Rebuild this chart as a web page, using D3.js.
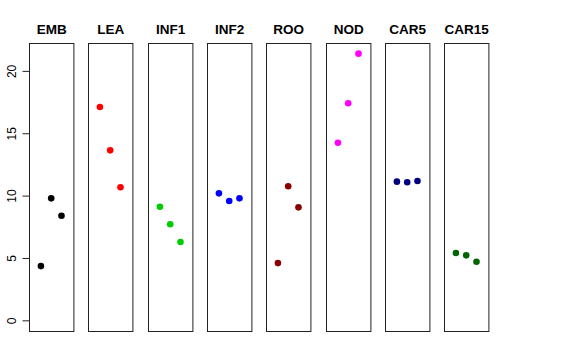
<!DOCTYPE html>
<html><head><meta charset="utf-8">
<script src="https://cdn.jsdelivr.net/npm/d3@7"></script>
<style>body{margin:0;background:#fff}svg{display:block}</style>
</head><body><svg id="c" width="576" height="360"></svg>
<script>
const categories = ["EMB","LEA","INF1","INF2","ROO","NOD","CAR5","CAR15"];
const colors = ["#000000","#FF0000","#00CD00","#0000FF","#8B0000","#FF00FF","#000080","#006400"];
const EMB = [4.35, 9.78, 8.39];
const LEA = [17.1, 13.63, 10.67];
const INF1 = [9.11, 7.70, 6.28];
const INF2 = [10.18, 9.57, 9.78];
const ROO = [4.59, 10.75, 9.06];
const NOD = [14.24, 17.40, 21.38];
const CAR5 = [11.12, 11.07, 11.17];
const CAR15 = [5.40, 5.21, 4.70];
const seriesValues = [EMB, LEA, INF1, INF2, ROO, NOD, CAR5, CAR15];
const yTicks = [0, 5, 10, 15, 20];

(function () {
const svg = d3.select("#c");
const plotTop = 43, plotBottom = 331;
const yMin = 0, yMax = 21.38, yPad = (yMax - yMin) * 0.04;
const y = d3.scaleLinear().domain([yMin - yPad, yMax + yPad]).range([plotBottom, plotTop]);

const panelLeft0 = 29, panelStep = 59.3, panelW = 44.4;
const band = d3.scaleLinear().domain([0, categories.length]).range([panelLeft0, panelLeft0 + panelStep * categories.length]);

categories.forEach((cat, i) => {
  const x0 = Math.round(band(i));
  const x = d3.scaleLinear().domain([-0.16, 4.16]).range([x0, x0 + panelW]);
  const g = svg.append("g");
  g.selectAll("circle").data(seriesValues[i]).join("circle")
    .attr("cx", (d, j) => x(j + 1)).attr("cy", d => y(d)).attr("r", 3.3)
    .attr("fill", colors[i]);
  g.append("rect").attr("x", x0 + 0.5).attr("y", plotTop + 0.5)
    .attr("width", panelW).attr("height", plotBottom - plotTop)
    .attr("fill", "none").attr("stroke", "#222").attr("stroke-width", 1);
  g.append("text").attr("x", x0 + panelW / 2 + 0.5).attr("y", 34)
    .attr("text-anchor", "middle").attr("font-family", "Liberation Sans, Arial, sans-serif")
    .attr("font-weight", "bold").attr("font-size", 13.5).text(cat);
});

const axis = d3.axisLeft(y).tickValues(yTicks).tickSize(7).tickPadding(0).tickFormat(d3.format("d"));
const ag = svg.append("g").attr("transform", `translate(${panelLeft0 + 0.5},0)`).call(axis);
ag.select(".domain").remove();
ag.selectAll(".tick line").attr("stroke", "#222");
ag.selectAll(".tick text")
  .attr("font-family", "Liberation Sans, Arial, sans-serif").attr("font-size", 12)
  .attr("fill", "#000")
  .attr("x", null).attr("dy", null)
  .attr("text-anchor", "middle")
  .attr("transform", "translate(-14,0) rotate(-90)");
ag.append("line").attr("x1", 0).attr("x2", 0).attr("y1", y(0)).attr("y2", y(20)).attr("stroke", "#222");
})();
</script></body></html>
